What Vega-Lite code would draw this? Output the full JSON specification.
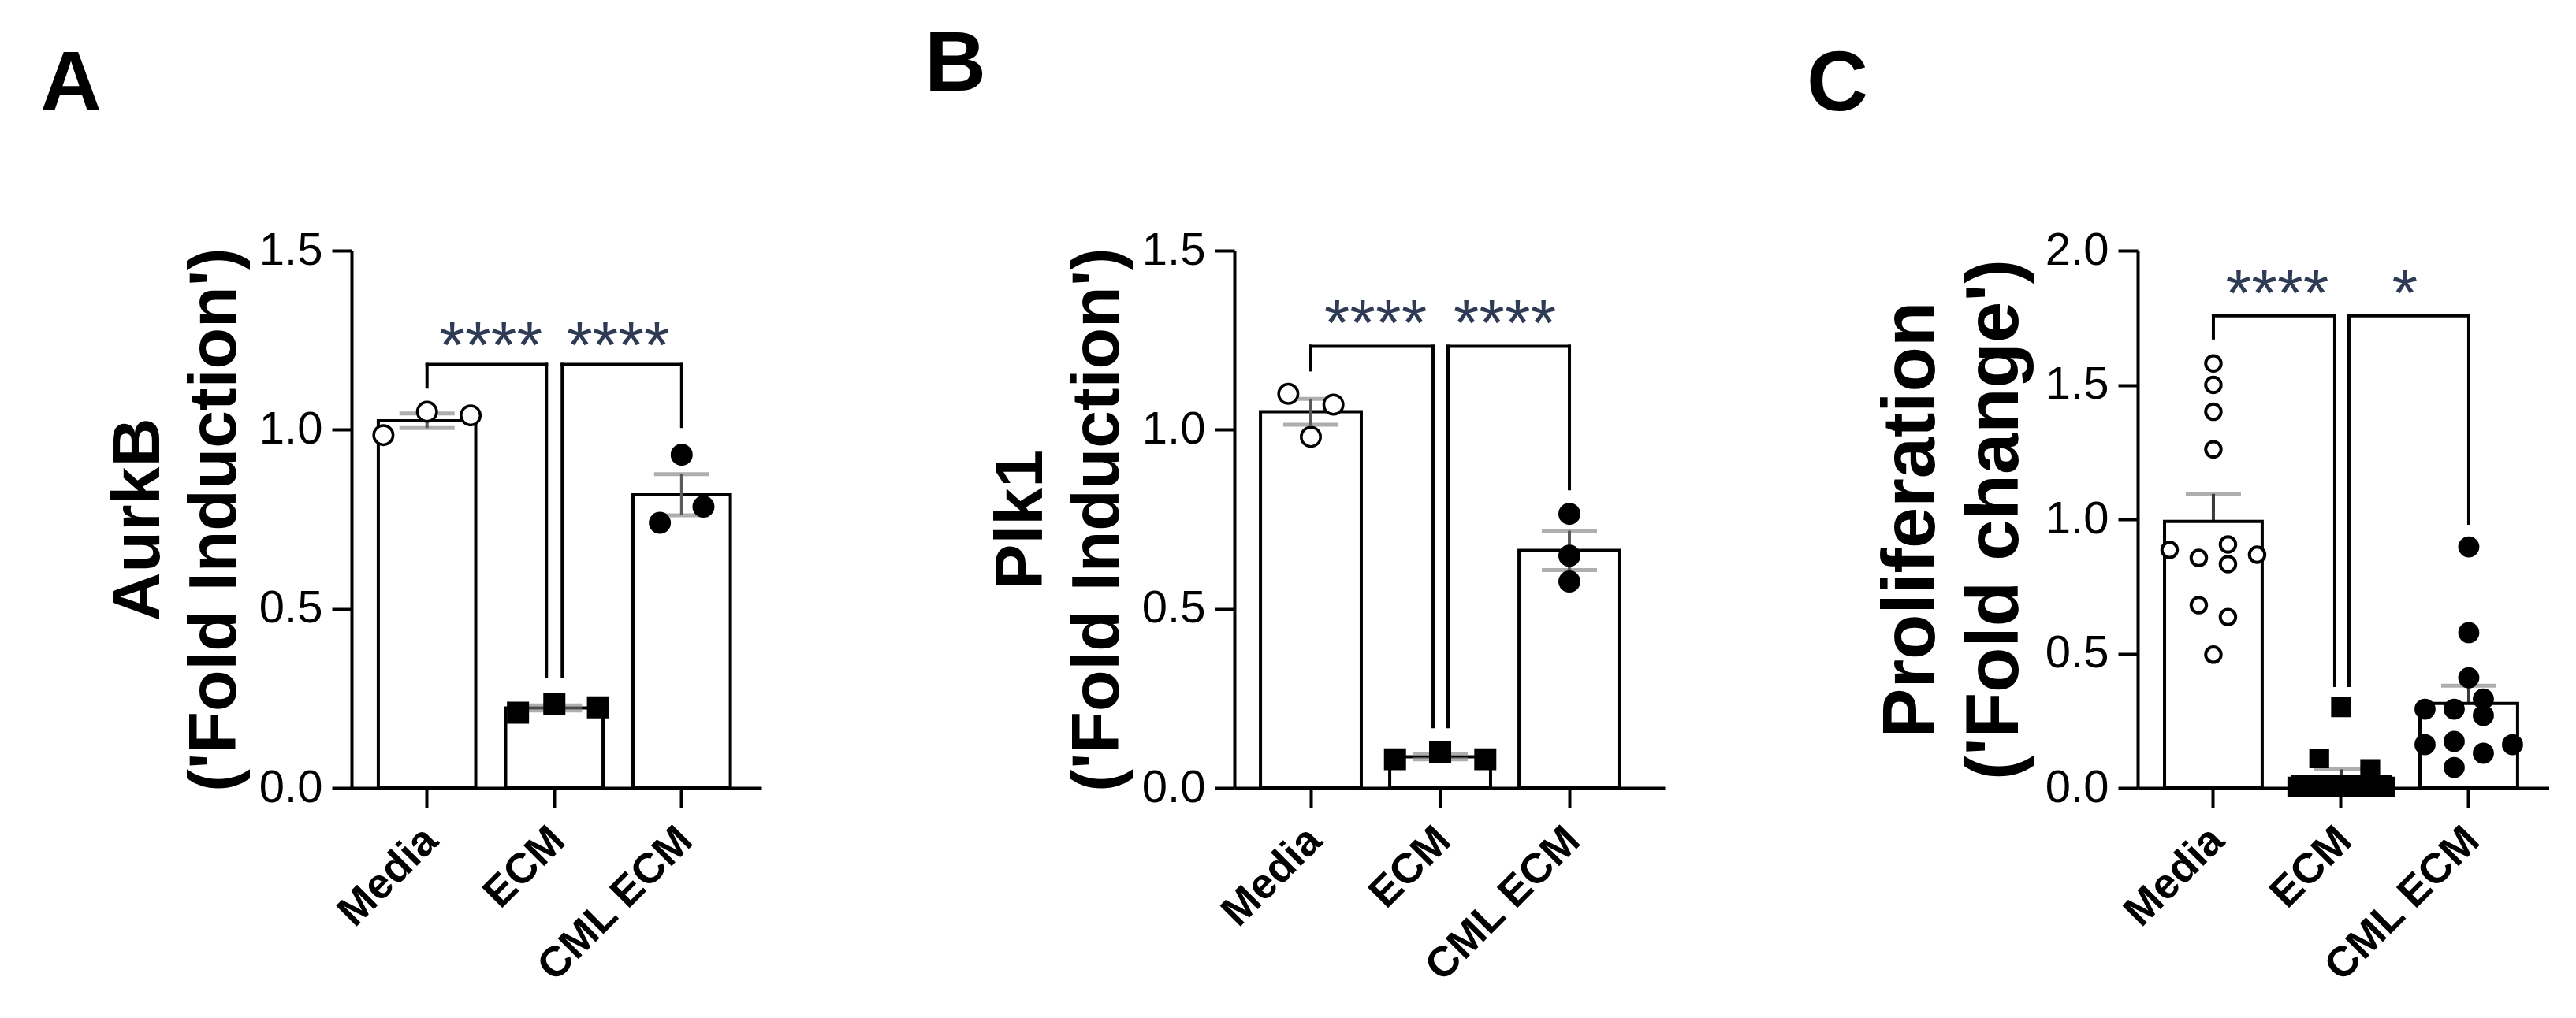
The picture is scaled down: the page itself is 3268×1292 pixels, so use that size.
{
  "$schema": "https://vega.github.io/schema/vega-lite/v6.json",
  "background": "white",
  "padding": {"left": 51, "top": 29, "right": 0, "bottom": 0},
  "bounds": "flush",
  "spacing": 600,
  "resolve": {"scale": {"x": "independent", "y": "independent", "xOffset": "independent"}},
  "config": {
    "view": {"stroke": null},
    "font": "Liberation Sans",
    "axis": {"domainColor": "black", "domainWidth": 4, "tickColor": "black", "tickWidth": 4, "tickSize": 25, "labelColor": "black", "titleColor": "black", "grid": false, "labelFont": "Liberation Sans", "titleFont": "Liberation Sans"},
    "axisY": {"labelFontSize": 58, "labelFontWeight": "normal", "labelPadding": 12, "titleFontWeight": "bold"},
    "axisX": {"labelFontSize": 54, "labelFontWeight": "bold", "labelAngle": -45, "labelPadding": 14, "labelOffset": -14, "labelLimit": 600},
    "title": {"fontSize": 108, "fontWeight": "bold", "font": "Liberation Sans", "anchor": "start", "frame": "group", "color": "black", "offset": 126}
  },
  "datasets": {
    "obs": [
      {"panel": "A", "group": "Media", "value": 0.985, "slot": -6},
      {"panel": "A", "group": "Media", "value": 1.05, "slot": 0},
      {"panel": "A", "group": "Media", "value": 1.04, "slot": 6},
      {"panel": "A", "group": "ECM", "value": 0.21, "slot": -5},
      {"panel": "A", "group": "ECM", "value": 0.235, "slot": 0},
      {"panel": "A", "group": "ECM", "value": 0.225, "slot": 6},
      {"panel": "A", "group": "CML ECM", "value": 0.74, "slot": -3},
      {"panel": "A", "group": "CML ECM", "value": 0.93, "slot": 0},
      {"panel": "A", "group": "CML ECM", "value": 0.785, "slot": 3},
      {"panel": "B", "group": "Media", "value": 1.1, "slot": -3},
      {"panel": "B", "group": "Media", "value": 0.98, "slot": 0},
      {"panel": "B", "group": "Media", "value": 1.07, "slot": 3},
      {"panel": "B", "group": "ECM", "value": 0.08, "slot": -6},
      {"panel": "B", "group": "ECM", "value": 0.1, "slot": 0},
      {"panel": "B", "group": "ECM", "value": 0.08, "slot": 6},
      {"panel": "B", "group": "CML ECM", "value": 0.765, "slot": 0},
      {"panel": "B", "group": "CML ECM", "value": 0.648, "slot": 0},
      {"panel": "B", "group": "CML ECM", "value": 0.576, "slot": 0},
      {"panel": "C", "group": "Media", "value": 1.58, "slot": 0},
      {"panel": "C", "group": "Media", "value": 1.5, "slot": 0},
      {"panel": "C", "group": "Media", "value": 1.4, "slot": 0},
      {"panel": "C", "group": "Media", "value": 1.26, "slot": 0},
      {"panel": "C", "group": "Media", "value": 0.886, "slot": -6},
      {"panel": "C", "group": "Media", "value": 0.856, "slot": -2},
      {"panel": "C", "group": "Media", "value": 0.906, "slot": 2},
      {"panel": "C", "group": "Media", "value": 0.833, "slot": 2},
      {"panel": "C", "group": "Media", "value": 0.868, "slot": 6},
      {"panel": "C", "group": "Media", "value": 0.68, "slot": -2},
      {"panel": "C", "group": "Media", "value": 0.636, "slot": 2},
      {"panel": "C", "group": "Media", "value": 0.496, "slot": 0},
      {"panel": "C", "group": "ECM", "value": 0.3, "slot": 0},
      {"panel": "C", "group": "ECM", "value": 0.11, "slot": -3},
      {"panel": "C", "group": "ECM", "value": 0.07, "slot": 4},
      {"panel": "C", "group": "ECM", "value": 0.005, "slot": -6},
      {"panel": "C", "group": "ECM", "value": 0.005, "slot": -4},
      {"panel": "C", "group": "ECM", "value": 0.005, "slot": -2},
      {"panel": "C", "group": "ECM", "value": 0.005, "slot": -1},
      {"panel": "C", "group": "ECM", "value": 0.005, "slot": 0},
      {"panel": "C", "group": "ECM", "value": 0.005, "slot": 1},
      {"panel": "C", "group": "ECM", "value": 0.005, "slot": 2},
      {"panel": "C", "group": "ECM", "value": 0.005, "slot": 4},
      {"panel": "C", "group": "ECM", "value": 0.005, "slot": 6},
      {"panel": "C", "group": "CML ECM", "value": 0.897, "slot": 0},
      {"panel": "C", "group": "CML ECM", "value": 0.578, "slot": 0},
      {"panel": "C", "group": "CML ECM", "value": 0.41, "slot": 0},
      {"panel": "C", "group": "CML ECM", "value": 0.293, "slot": -6},
      {"panel": "C", "group": "CML ECM", "value": 0.293, "slot": -2},
      {"panel": "C", "group": "CML ECM", "value": 0.331, "slot": 2},
      {"panel": "C", "group": "CML ECM", "value": 0.27, "slot": 2},
      {"panel": "C", "group": "CML ECM", "value": 0.161, "slot": -6},
      {"panel": "C", "group": "CML ECM", "value": 0.173, "slot": -2},
      {"panel": "C", "group": "CML ECM", "value": 0.129, "slot": 2},
      {"panel": "C", "group": "CML ECM", "value": 0.161, "slot": 6},
      {"panel": "C", "group": "CML ECM", "value": 0.076, "slot": -2}
    ],
    "sig": [
      {"panel": "A", "side": "left", "from": "Media", "to": "ECM", "top": 1.182, "end_from": 1.119, "end_to": 0.31, "label": "****"},
      {"panel": "A", "side": "right", "from": "ECM", "to": "CML ECM", "top": 1.182, "end_from": 0.31, "end_to": 1.009, "label": "****"},
      {"panel": "B", "side": "left", "from": "Media", "to": "ECM", "top": 1.233, "end_from": 1.167, "end_to": 0.171, "label": "****"},
      {"panel": "B", "side": "right", "from": "ECM", "to": "CML ECM", "top": 1.233, "end_from": 0.171, "end_to": 0.835, "label": "****"},
      {"panel": "C", "side": "left", "from": "Media", "to": "ECM", "top": 1.757, "end_from": 1.675, "end_to": 0.381, "label": "****"},
      {"panel": "C", "side": "right", "from": "ECM", "to": "CML ECM", "top": 1.757, "end_from": 0.381, "end_to": 0.985, "label": "*"}
    ]
  },
  "hconcat": [
    {
      "width": 520, "height": 682,
      "title": {"text": "A", "dx": -395},
      "resolve": {"scale": {"xOffset": "independent"}},
      "layer": [
        {"data": {"name": "obs"}, "transform": [{"filter": "datum.panel === 'A'"}],
         "mark": {"type": "bar", "fill": "white", "stroke": "black", "strokeWidth": 4, "width": 123.6},
         "encoding": {
           "x": {"field": "group", "type": "nominal", "title": null, "scale": {"domain": ["Media", "ECM", "CML ECM"], "paddingInner": 0.235, "paddingOuter": 0.227, "align": 0.4626}},
           "y": {"aggregate": "mean", "field": "value", "type": "quantitative", "title": ["AurkB", "('Fold Induction')"], "scale": {"domain": [0, 1.5], "nice": false}, "axis": {"values": [0, 0.5, 1, 1.5], "format": ".1f", "titleFontSize": 86, "titleLineHeight": 97, "titlePadding": 12}}}},
        {"data": {"name": "obs"}, "transform": [{"filter": "datum.panel === 'A'"}],
         "mark": {"type": "errorbar", "extent": "stderr", "rule": {"color": "#5a5a5a", "strokeWidth": 4}, "ticks": {"color": "#8c8c8c", "size": 70, "thickness": 5}},
         "encoding": {"x": {"field": "group", "type": "nominal", "title": null}, "y": {"field": "value", "type": "quantitative", "title": ["AurkB", "('Fold Induction')"]}}},
        {"data": {"name": "obs"}, "transform": [{"filter": "datum.panel === 'A'"}],
         "mark": {"type": "point", "filled": true, "stroke": "black", "strokeWidth": 3.5, "size": 600, "opacity": 1},
         "encoding": {
           "x": {"field": "group", "type": "nominal", "title": null},
           "xOffset": {"field": "slot", "type": "ordinal", "scale": {"type": "point", "domain": [-6, -5, -4, -3, -2, -1, 0, 1, 2, 3, 4, 5, 6], "padding": 0.7}},
           "y": {"field": "value", "type": "quantitative", "title": ["AurkB", "('Fold Induction')"]},
           "shape": {"field": "group", "type": "nominal", "scale": {"domain": ["Media", "ECM", "CML ECM"], "range": ["circle", "square", "circle"]}, "legend": null},
           "fill": {"field": "group", "type": "nominal", "scale": {"domain": ["Media", "ECM", "CML ECM"], "range": ["white", "black", "black"]}, "legend": null}}},
        {"data": {"name": "sig"}, "transform": [{"filter": "datum.panel === 'A' && datum.side === 'left'"}],
         "mark": {"type": "rule", "color": "black", "strokeWidth": 4, "strokeCap": "square", "x2Offset": -10},
         "encoding": {"x": {"field": "from", "type": "nominal", "bandPosition": 0.5, "title": null}, "x2": {"field": "to", "bandPosition": 0.5}, "y": {"field": "top", "type": "quantitative", "title": ["AurkB", "('Fold Induction')"]}}},
        {"data": {"name": "sig"}, "transform": [{"filter": "datum.panel === 'A' && datum.side === 'right'"}],
         "mark": {"type": "rule", "color": "black", "strokeWidth": 4, "strokeCap": "square", "xOffset": 10},
         "encoding": {"x": {"field": "from", "type": "nominal", "bandPosition": 0.5, "title": null}, "x2": {"field": "to", "bandPosition": 0.5}, "y": {"field": "top", "type": "quantitative", "title": ["AurkB", "('Fold Induction')"]}}},
        {"data": {"name": "sig"}, "transform": [{"filter": "datum.panel === 'A' && datum.side === 'left'"}],
         "mark": {"type": "rule", "color": "black", "strokeWidth": 4, "strokeCap": "square"},
         "encoding": {"x": {"field": "from", "type": "nominal", "bandPosition": 0.5, "title": null}, "y": {"field": "top", "type": "quantitative", "title": ["AurkB", "('Fold Induction')"]}, "y2": {"field": "end_from"}}},
        {"data": {"name": "sig"}, "transform": [{"filter": "datum.panel === 'A' && datum.side === 'left'"}],
         "mark": {"type": "rule", "color": "black", "strokeWidth": 4, "strokeCap": "square", "xOffset": -10},
         "encoding": {"x": {"field": "to", "type": "nominal", "bandPosition": 0.5, "title": null}, "y": {"field": "top", "type": "quantitative", "title": ["AurkB", "('Fold Induction')"]}, "y2": {"field": "end_to"}}},
        {"data": {"name": "sig"}, "transform": [{"filter": "datum.panel === 'A' && datum.side === 'right'"}],
         "mark": {"type": "rule", "color": "black", "strokeWidth": 4, "strokeCap": "square", "xOffset": 10},
         "encoding": {"x": {"field": "from", "type": "nominal", "bandPosition": 0.5, "title": null}, "y": {"field": "top", "type": "quantitative", "title": ["AurkB", "('Fold Induction')"]}, "y2": {"field": "end_from"}}},
        {"data": {"name": "sig"}, "transform": [{"filter": "datum.panel === 'A' && datum.side === 'right'"}],
         "mark": {"type": "rule", "color": "black", "strokeWidth": 4, "strokeCap": "square"},
         "encoding": {"x": {"field": "to", "type": "nominal", "bandPosition": 0.5, "title": null}, "y": {"field": "top", "type": "quantitative", "title": ["AurkB", "('Fold Induction')"]}, "y2": {"field": "end_to"}}},
        {"data": {"name": "sig"}, "transform": [{"filter": "datum.panel === 'A'"}],
         "mark": {"type": "text", "font": "Liberation Sans", "fontWeight": "normal", "fontSize": 84, "color": "#2f3a55", "align": "center", "baseline": "alphabetic", "xOffset": 81, "dy": 4},
         "encoding": {"x": {"field": "from", "type": "nominal", "bandPosition": 0.5, "title": null}, "y": {"field": "top", "type": "quantitative", "title": ["AurkB", "('Fold Induction')"]}, "text": {"field": "label"}}}
      ]
    },
    {
      "width": 546, "height": 682,
      "title": {"text": "B", "dx": -393, "dy": -25},
      "resolve": {"scale": {"xOffset": "independent"}},
      "layer": [
        {"data": {"name": "obs"}, "transform": [{"filter": "datum.panel === 'B'"}],
         "mark": {"type": "bar", "fill": "white", "stroke": "black", "strokeWidth": 4, "width": 127.9},
         "encoding": {
           "x": {"field": "group", "type": "nominal", "title": null, "scale": {"domain": ["Media", "ECM", "CML ECM"], "paddingInner": 0.22, "paddingOuter": 0.2746, "align": 0.367}},
           "y": {"aggregate": "mean", "field": "value", "type": "quantitative", "title": ["Plk1", "('Fold Induction')"], "scale": {"domain": [0, 1.5], "nice": false}, "axis": {"values": [0, 0.5, 1, 1.5], "format": ".1f", "titleFontSize": 86, "titleLineHeight": 97, "titlePadding": 12}}}},
        {"data": {"name": "obs"}, "transform": [{"filter": "datum.panel === 'B'"}],
         "mark": {"type": "errorbar", "extent": "stderr", "rule": {"color": "#5a5a5a", "strokeWidth": 4}, "ticks": {"color": "#8c8c8c", "size": 70, "thickness": 5}},
         "encoding": {"x": {"field": "group", "type": "nominal", "title": null}, "y": {"field": "value", "type": "quantitative", "title": ["Plk1", "('Fold Induction')"]}}},
        {"data": {"name": "obs"}, "transform": [{"filter": "datum.panel === 'B'"}],
         "mark": {"type": "point", "filled": true, "stroke": "black", "strokeWidth": 3.5, "size": 600, "opacity": 1},
         "encoding": {
           "x": {"field": "group", "type": "nominal", "title": null},
           "xOffset": {"field": "slot", "type": "ordinal", "scale": {"type": "point", "domain": [-6, -5, -4, -3, -2, -1, 0, 1, 2, 3, 4, 5, 6], "padding": 0.7}},
           "y": {"field": "value", "type": "quantitative", "title": ["Plk1", "('Fold Induction')"]},
           "shape": {"field": "group", "type": "nominal", "scale": {"domain": ["Media", "ECM", "CML ECM"], "range": ["circle", "square", "circle"]}, "legend": null},
           "fill": {"field": "group", "type": "nominal", "scale": {"domain": ["Media", "ECM", "CML ECM"], "range": ["white", "black", "black"]}, "legend": null}}},
        {"data": {"name": "sig"}, "transform": [{"filter": "datum.panel === 'B' && datum.side === 'left'"}],
         "mark": {"type": "rule", "color": "black", "strokeWidth": 4, "strokeCap": "square", "x2Offset": -9},
         "encoding": {"x": {"field": "from", "type": "nominal", "bandPosition": 0.5, "title": null}, "x2": {"field": "to", "bandPosition": 0.5}, "y": {"field": "top", "type": "quantitative", "title": ["Plk1", "('Fold Induction')"]}}},
        {"data": {"name": "sig"}, "transform": [{"filter": "datum.panel === 'B' && datum.side === 'right'"}],
         "mark": {"type": "rule", "color": "black", "strokeWidth": 4, "strokeCap": "square", "xOffset": 10},
         "encoding": {"x": {"field": "from", "type": "nominal", "bandPosition": 0.5, "title": null}, "x2": {"field": "to", "bandPosition": 0.5}, "y": {"field": "top", "type": "quantitative", "title": ["Plk1", "('Fold Induction')"]}}},
        {"data": {"name": "sig"}, "transform": [{"filter": "datum.panel === 'B' && datum.side === 'left'"}],
         "mark": {"type": "rule", "color": "black", "strokeWidth": 4, "strokeCap": "square"},
         "encoding": {"x": {"field": "from", "type": "nominal", "bandPosition": 0.5, "title": null}, "y": {"field": "top", "type": "quantitative", "title": ["Plk1", "('Fold Induction')"]}, "y2": {"field": "end_from"}}},
        {"data": {"name": "sig"}, "transform": [{"filter": "datum.panel === 'B' && datum.side === 'left'"}],
         "mark": {"type": "rule", "color": "black", "strokeWidth": 4, "strokeCap": "square", "xOffset": -9},
         "encoding": {"x": {"field": "to", "type": "nominal", "bandPosition": 0.5, "title": null}, "y": {"field": "top", "type": "quantitative", "title": ["Plk1", "('Fold Induction')"]}, "y2": {"field": "end_to"}}},
        {"data": {"name": "sig"}, "transform": [{"filter": "datum.panel === 'B' && datum.side === 'right'"}],
         "mark": {"type": "rule", "color": "black", "strokeWidth": 4, "strokeCap": "square", "xOffset": 10},
         "encoding": {"x": {"field": "from", "type": "nominal", "bandPosition": 0.5, "title": null}, "y": {"field": "top", "type": "quantitative", "title": ["Plk1", "('Fold Induction')"]}, "y2": {"field": "end_from"}}},
        {"data": {"name": "sig"}, "transform": [{"filter": "datum.panel === 'B' && datum.side === 'right'"}],
         "mark": {"type": "rule", "color": "black", "strokeWidth": 4, "strokeCap": "square"},
         "encoding": {"x": {"field": "to", "type": "nominal", "bandPosition": 0.5, "title": null}, "y": {"field": "top", "type": "quantitative", "title": ["Plk1", "('Fold Induction')"]}, "y2": {"field": "end_to"}}},
        {"data": {"name": "sig"}, "transform": [{"filter": "datum.panel === 'B'"}],
         "mark": {"type": "text", "font": "Liberation Sans", "fontWeight": "normal", "fontSize": 84, "color": "#2f3a55", "align": "center", "baseline": "alphabetic", "xOffset": 82, "dy": 0},
         "encoding": {"x": {"field": "from", "type": "nominal", "bandPosition": 0.5, "title": null}, "y": {"field": "top", "type": "quantitative", "title": ["Plk1", "('Fold Induction')"]}, "text": {"field": "label"}}}
      ]
    },
    {
      "width": 522, "height": 682,
      "title": {"text": "C", "dx": -420},
      "resolve": {"scale": {"xOffset": "independent"}},
      "layer": [
        {"data": {"name": "obs"}, "transform": [{"filter": "datum.panel === 'C'"}],
         "mark": {"type": "errorbar", "extent": "stderr", "rule": {"color": "#3a3a3a", "strokeWidth": 4}, "ticks": {"color": "#8c8c8c", "size": 70, "thickness": 5}},
         "encoding": {"x": {"field": "group", "type": "nominal", "title": null, "scale": {"domain": ["Media", "ECM", "CML ECM"], "paddingInner": 0.235, "paddingOuter": 0.2286, "align": 0.459}}, "y": {"field": "value", "type": "quantitative", "title": ["Proliferation", "('Fold change')"], "scale": {"domain": [0, 2], "nice": false}}}},
        {"data": {"name": "obs"}, "transform": [{"filter": "datum.panel === 'C'"}],
         "mark": {"type": "bar", "fill": "white", "stroke": "black", "strokeWidth": 4, "width": 123.9},
         "encoding": {
           "x": {"field": "group", "type": "nominal", "title": null},
           "y": {"aggregate": "mean", "field": "value", "type": "quantitative", "title": ["Proliferation", "('Fold change')"], "axis": {"values": [0, 0.5, 1, 1.5, 2], "format": ".1f", "titleFontSize": 94, "titleLineHeight": 106, "titlePadding": 15}}}},
        {"data": {"name": "obs"}, "transform": [{"filter": "datum.panel === 'C'"}],
         "mark": {"type": "point", "filled": true, "stroke": "black", "strokeWidth": 4, "opacity": 1},
         "encoding": {
           "x": {"field": "group", "type": "nominal", "title": null},
           "xOffset": {"field": "slot", "type": "ordinal", "scale": {"type": "point", "domain": [-6, -5, -4, -3, -2, -1, 0, 1, 2, 3, 4, 5, 6], "padding": 0.7}},
           "y": {"field": "value", "type": "quantitative", "title": ["Proliferation", "('Fold change')"]},
           "size": {"field": "group", "type": "nominal", "scale": {"domain": ["Media", "ECM", "CML ECM"], "range": [380, 520, 520]}, "legend": null},
           "shape": {"field": "group", "type": "nominal", "scale": {"domain": ["Media", "ECM", "CML ECM"], "range": ["circle", "square", "circle"]}, "legend": null},
           "fill": {"field": "group", "type": "nominal", "scale": {"domain": ["Media", "ECM", "CML ECM"], "range": ["white", "black", "black"]}, "legend": null}}},
        {"data": {"name": "sig"}, "transform": [{"filter": "datum.panel === 'C' && datum.side === 'left'"}],
         "mark": {"type": "rule", "color": "black", "strokeWidth": 4, "strokeCap": "square", "x2Offset": -8},
         "encoding": {"x": {"field": "from", "type": "nominal", "bandPosition": 0.5, "title": null}, "x2": {"field": "to", "bandPosition": 0.5}, "y": {"field": "top", "type": "quantitative", "title": ["Proliferation", "('Fold change')"]}}},
        {"data": {"name": "sig"}, "transform": [{"filter": "datum.panel === 'C' && datum.side === 'right'"}],
         "mark": {"type": "rule", "color": "black", "strokeWidth": 4, "strokeCap": "square", "xOffset": 10},
         "encoding": {"x": {"field": "from", "type": "nominal", "bandPosition": 0.5, "title": null}, "x2": {"field": "to", "bandPosition": 0.5}, "y": {"field": "top", "type": "quantitative", "title": ["Proliferation", "('Fold change')"]}}},
        {"data": {"name": "sig"}, "transform": [{"filter": "datum.panel === 'C' && datum.side === 'left'"}],
         "mark": {"type": "rule", "color": "black", "strokeWidth": 4, "strokeCap": "square"},
         "encoding": {"x": {"field": "from", "type": "nominal", "bandPosition": 0.5, "title": null}, "y": {"field": "top", "type": "quantitative", "title": ["Proliferation", "('Fold change')"]}, "y2": {"field": "end_from"}}},
        {"data": {"name": "sig"}, "transform": [{"filter": "datum.panel === 'C' && datum.side === 'left'"}],
         "mark": {"type": "rule", "color": "black", "strokeWidth": 4, "strokeCap": "square", "xOffset": -8},
         "encoding": {"x": {"field": "to", "type": "nominal", "bandPosition": 0.5, "title": null}, "y": {"field": "top", "type": "quantitative", "title": ["Proliferation", "('Fold change')"]}, "y2": {"field": "end_to"}}},
        {"data": {"name": "sig"}, "transform": [{"filter": "datum.panel === 'C' && datum.side === 'right'"}],
         "mark": {"type": "rule", "color": "black", "strokeWidth": 4, "strokeCap": "square", "xOffset": 10},
         "encoding": {"x": {"field": "from", "type": "nominal", "bandPosition": 0.5, "title": null}, "y": {"field": "top", "type": "quantitative", "title": ["Proliferation", "('Fold change')"]}, "y2": {"field": "end_from"}}},
        {"data": {"name": "sig"}, "transform": [{"filter": "datum.panel === 'C' && datum.side === 'right'"}],
         "mark": {"type": "rule", "color": "black", "strokeWidth": 4, "strokeCap": "square"},
         "encoding": {"x": {"field": "to", "type": "nominal", "bandPosition": 0.5, "title": null}, "y": {"field": "top", "type": "quantitative", "title": ["Proliferation", "('Fold change')"]}, "y2": {"field": "end_to"}}},
        {"data": {"name": "sig"}, "transform": [{"filter": "datum.panel === 'C'"}],
         "mark": {"type": "text", "font": "Liberation Sans", "fontWeight": "normal", "fontSize": 84, "color": "#2f3a55", "align": "center", "baseline": "alphabetic", "xOffset": 81, "dy": 0},
         "encoding": {"x": {"field": "from", "type": "nominal", "bandPosition": 0.5, "title": null}, "y": {"field": "top", "type": "quantitative", "title": ["Proliferation", "('Fold change')"]}, "text": {"field": "label"}}}
      ]
    }
  ]
}
